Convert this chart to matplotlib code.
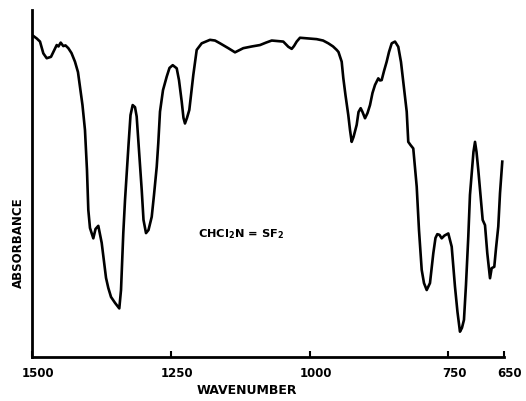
import matplotlib
matplotlib.use("Agg")
import matplotlib.pyplot as plt
import matplotlib.transforms as mtransforms

# Infrared spectrum of CHCl2N=SF2 (trace read as % of full scale, top = baseline)
wavenumber = [
    1500.0, 1491.5, 1485.6, 1479.6, 1473.5, 1465.8, 1459.8, 1455.5, 1452.3, 1448.3,
    1443.6, 1439.7, 1434.6, 1428.9, 1422.6, 1417.2, 1413.6, 1409.1, 1404.6, 1401.0,
    1398.6, 1395.6, 1389.6, 1385.6, 1380.6, 1374.5, 1370.3, 1366.7, 1362.6, 1357.7,
    1350.5, 1342.8, 1339.7, 1335.6, 1332.5, 1329.5, 1326.2, 1322.6, 1318.7, 1314.5,
    1311.5, 1307.3, 1302.4, 1299.2, 1294.7, 1290.2, 1284.4, 1280.3, 1275.4, 1272.6,
    1269.5, 1264.1, 1257.4, 1252.4, 1246.6, 1239.4, 1235.3, 1230.4, 1227.2, 1224.5,
    1220.9, 1216.7, 1213.7, 1209.5, 1203.4, 1194.4, 1179.5, 1170.4, 1161.4, 1146.5,
    1134.4, 1119.5, 1103.8, 1089.4, 1078.6, 1068.3, 1047.5, 1038.4, 1032.3, 1028.2,
    1023.3, 1017.4, 1002.6, 987.3, 975.8, 966.4, 957.9, 951.3, 948.1, 942.3,
    939.4, 935.5, 930.4, 927.3, 924.3, 921.0, 915.3, 912.0, 908.1, 904.8,
    900.3, 895.8, 891.3, 886.8, 882.3, 876.4, 873.3, 870.3, 866.1, 861.3,
    857.1, 852.2, 846.3, 840.4, 835.5, 831.4, 825.2, 822.4, 818.4, 813.4,
    807.2, 803.1, 798.2, 794.1, 789.2, 783.3, 777.3, 773.4, 770.1, 766.2,
    762.2, 757.2, 750.3, 744.2, 738.3, 733.8, 729.3, 725.7, 722.1, 718.5,
    714.3, 711.3, 708.2, 705.0, 702.2, 699.5, 696.3, 692.3, 688.4, 684.2,
    680.1, 675.2, 672.2, 667.5, 664.4, 660.3, 657.2, 653.1,
]
signal = [
    92.8, 91.8, 90.9, 87.5, 86.1, 86.5, 88.5, 89.9, 89.5, 90.6,
    89.6, 89.8, 89.0, 87.6, 85.1, 82.1, 77.9, 72.6, 65.4, 53.9,
    42.4, 37.2, 34.2, 36.9, 37.8, 32.9, 27.4, 22.8, 19.9, 17.3,
    15.6, 14.0, 19.3, 35.7, 45.2, 53.0, 61.1, 69.7, 72.6, 72.0,
    69.3, 59.7, 48.1, 39.5, 35.7, 36.6, 40.4, 46.7, 54.8, 61.6,
    70.7, 76.9, 80.8, 83.3, 84.1, 83.2, 79.8, 73.6, 68.9, 67.3,
    68.9, 71.2, 75.5, 81.3, 88.5, 90.4, 91.4, 91.2, 90.4, 89.0,
    87.8, 89.0, 89.5, 89.9, 90.6, 91.2, 90.9, 89.4, 88.8, 89.6,
    90.9, 92.0, 91.8, 91.6, 91.2, 90.4, 89.5, 88.5, 87.9, 85.1,
    80.4, 75.5, 69.7, 65.4, 62.0, 63.4, 66.9, 70.6, 71.7, 70.6,
    68.8, 70.3, 72.6, 76.1, 78.4, 80.3, 79.7, 79.8, 82.4, 85.1,
    87.9, 90.4, 90.9, 89.4, 85.0, 79.3, 70.7, 62.0, 61.1, 60.1,
    49.1, 36.6, 25.1, 21.3, 19.3, 21.3, 29.9, 34.3, 35.4, 35.2,
    34.2, 35.0, 35.6, 31.8, 20.3, 13.0, 7.3, 8.4, 10.7, 20.7,
    34.7, 46.7, 52.9, 59.1, 62.0, 59.1, 53.9, 46.7, 39.5, 38.0,
    29.9, 22.7, 25.6, 26.0, 31.3, 37.6, 47.2, 56.3,
]
tick_values = [1500, 1250, 1000, 750, 650]
tick_labels = ["1500", "1250", "1000", "750", "650"]

plt.rcParams["font.family"] = ["DejaVu Sans"]
plt.rcParams["font.weight"] = "bold"

fig = plt.figure(figsize=(5.26, 4.01), dpi=100)
ax = fig.add_axes([32 / 526, 44 / 401, 472 / 526, 347 / 401])

ax.plot(wavenumber, signal, color="black", lw=1.9, solid_joinstyle="round")

ax.set_xlim(1500, 650)
ax.set_ylim(0, 100)

for side in ("top", "right"):
    ax.spines[side].set_visible(False)
for side in ("left", "bottom"):
    ax.spines[side].set_linewidth(2.0)

ax.set_yticks([])
ax.set_xticks(tick_values)
ax.set_xticklabels(tick_labels, fontsize=8.5, fontweight="bold")
ax.tick_params(axis="x", direction="in", length=4, width=1.5, pad=7)
shift = mtransforms.ScaledTranslation(6 / 100, 0, fig.dpi_scale_trans)
for lbl in ax.get_xticklabels():
    lbl.set_transform(lbl.get_transform() + shift)

fig.text(247 / 526, 1 - 391 / 401, "WAVENUMBER", ha="center", va="center",
         fontsize=9, fontweight="bold")
fig.text(18 / 526, 1 - 243 / 401, "ABSORBANCE", ha="center", va="center",
         rotation=90, fontsize=8.5, fontweight="bold")

ax.text(1124, 35.5, r"CHCl$_\mathbf{2}$N = SF$_\mathbf{2}$", ha="center",
        va="center", fontsize=8.2, fontweight="bold")

fig.savefig("out.png", dpi=100)
